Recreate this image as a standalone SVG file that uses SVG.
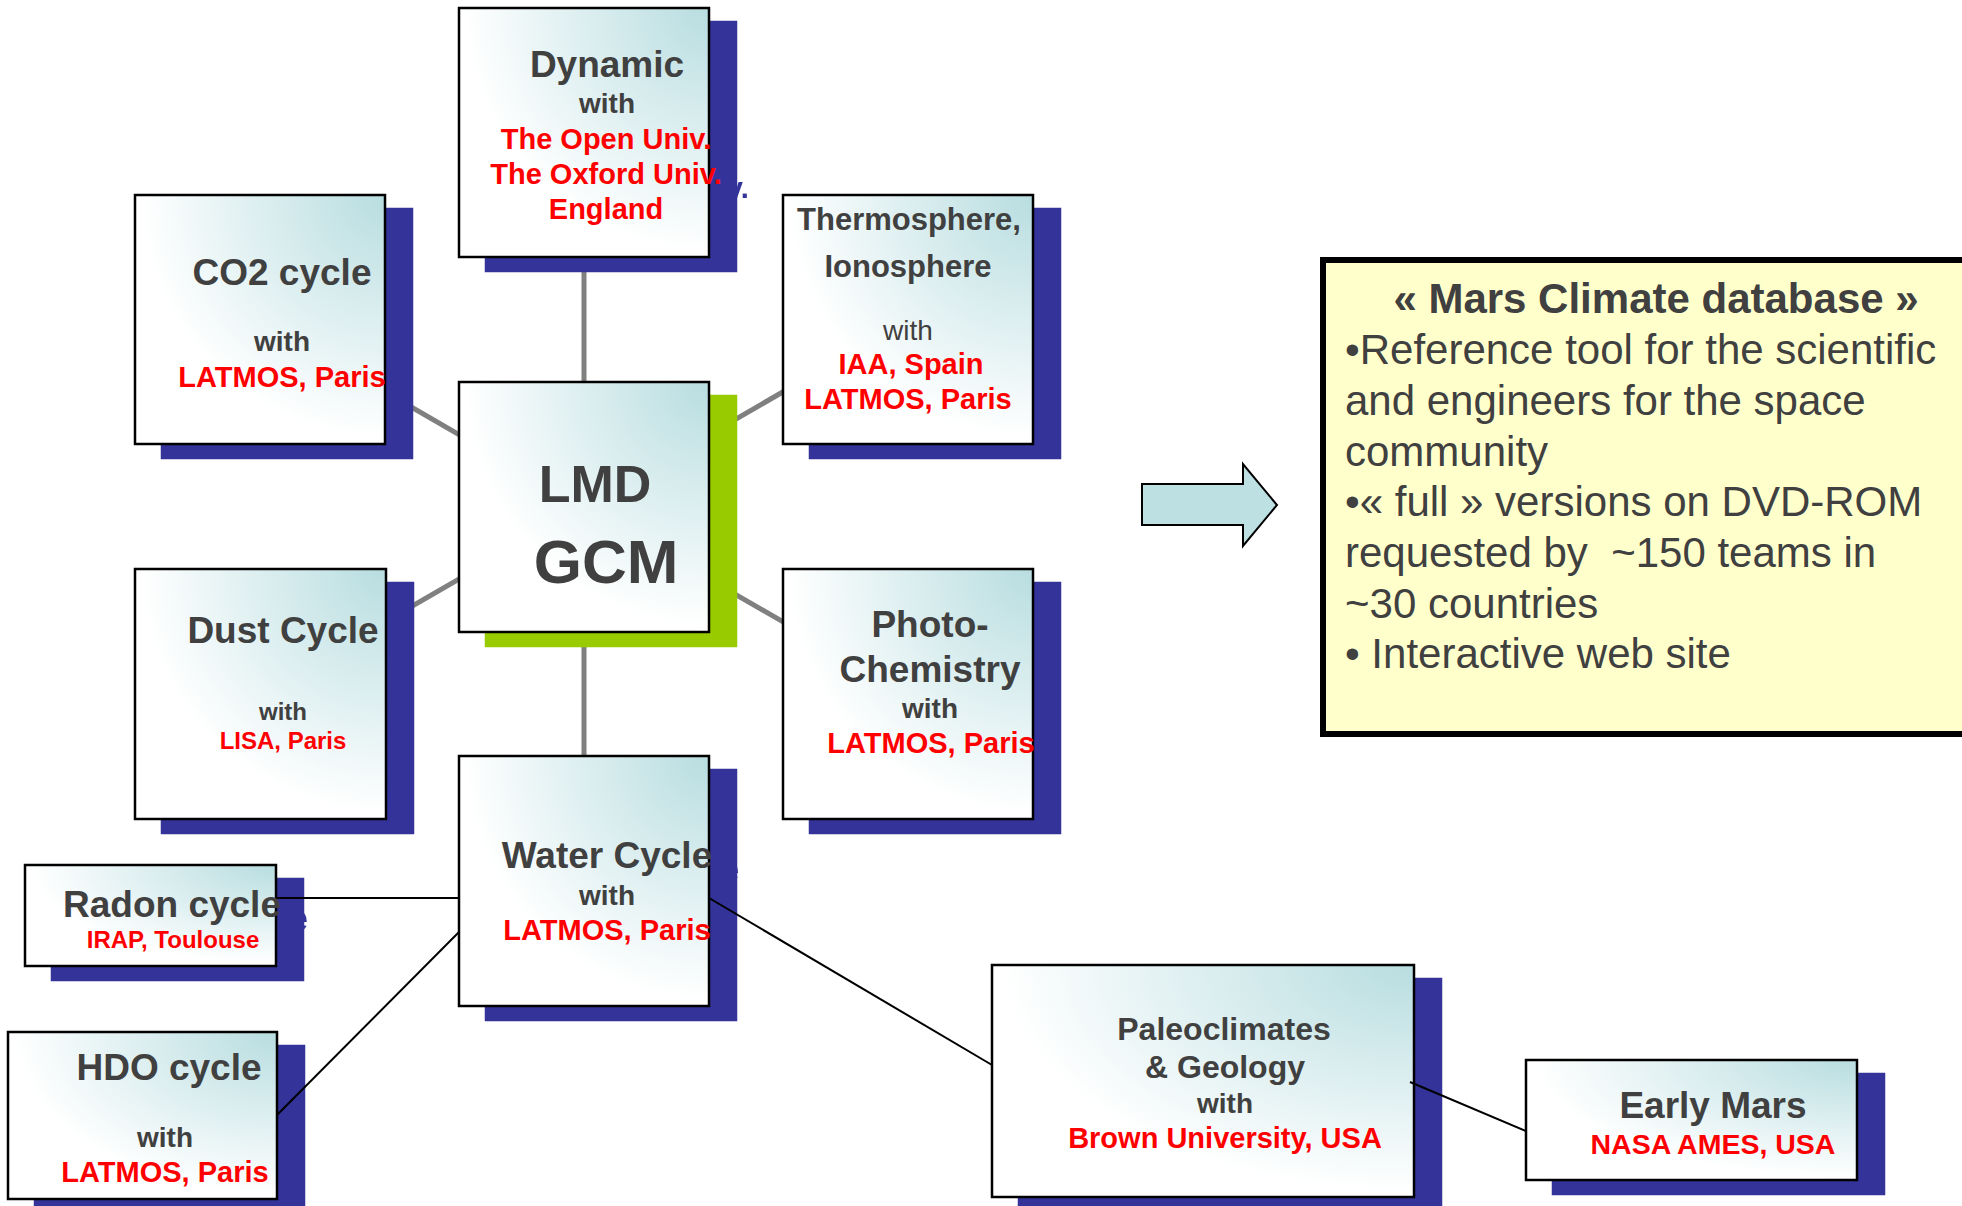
<svg xmlns="http://www.w3.org/2000/svg" xmlns:xlink="http://www.w3.org/1999/xlink" width="1962" height="1206" viewBox="0 0 1962 1206">
<style>
  text { font-family: "Liberation Sans", Arial, sans-serif; text-anchor: middle; }
  .box { fill: url(#boxGrad); stroke: #000; stroke-width: 2.5; }
  .t { fill: #404040; font-weight: bold; font-size: 37px; }
  .w { fill: #404040; font-weight: bold; font-size: 28px; }
  .wr { fill: #404040; font-weight: normal; font-size: 28px; }
  .r { fill: #ff0000; font-weight: bold; font-size: 29px; }
  .hub { stroke: #808080; stroke-width: 5; fill: none; }
  .link { stroke: #000; stroke-width: 2; fill: none; }
  .db { fill: #404040; font-size: 42px; text-anchor: start; }
</style>
<defs>
  <radialGradient id="boxGrad" cx="1" cy="0" r="1.15" gradientUnits="objectBoundingBox">
    <stop offset="0" stop-color="#b8dde0"/>
    <stop offset="0.85" stop-color="#ffffff"/>
    <stop offset="1" stop-color="#ffffff"/>
  </radialGradient>
  <filter id="shBlue" x="-0.2" y="-0.2" width="1.4" height="1.4" color-interpolation-filters="sRGB">
    <feFlood flood-color="#333399"/>
    <feComposite in2="SourceAlpha" operator="in"/>
  </filter>
  <filter id="shGreen" x="-0.2" y="-0.2" width="1.4" height="1.4" color-interpolation-filters="sRGB">
    <feFlood flood-color="#99cc00"/>
    <feComposite in2="SourceAlpha" operator="in"/>
  </filter>
</defs>
<rect width="1962" height="1206" fill="#ffffff"/>

<g id="connectors-hub">
  <line class="hub" x1="584" y1="132" x2="584" y2="881"/>
  <line class="hub" x1="260" y1="319.5" x2="584" y2="507"/>
  <line class="hub" x1="260" y1="694" x2="584" y2="507"/>
  <line class="hub" x1="908" y1="319.5" x2="584" y2="507"/>
  <line class="hub" x1="908" y1="694" x2="584" y2="507"/>
</g>

<g id="node-dynamic">
  <use xlink:href="#dyn-body" transform="translate(27,14)" filter="url(#shBlue)"/>
  <g id="dyn-body">
    <rect class="box" x="459" y="8" width="250" height="249"/>
    <text class="t" x="607" y="77">Dynamic</text>
    <text class="w" x="607" y="113">with</text>
    <text class="r" x="606" y="149">The Open Univ.</text>
    <text class="r" x="606" y="184">The Oxford Univ.</text>
    <text class="r" x="606" y="219">England</text>
  </g>
</g>

<g id="node-co2">
  <use xlink:href="#co2-body" transform="translate(27,14)" filter="url(#shBlue)"/>
  <g id="co2-body">
    <rect class="box" x="135" y="195" width="250" height="249"/>
    <text class="t" x="282" y="285">CO2 cycle</text>
    <text class="w" x="282" y="351">with</text>
    <text class="r" x="282" y="387">LATMOS, Paris</text>
  </g>
</g>

<g id="node-thermo">
  <use xlink:href="#thermo-body" transform="translate(27,14)" filter="url(#shBlue)"/>
  <g id="thermo-body">
    <rect class="box" x="783" y="195" width="250" height="249"/>
    <text class="t" style="font-size:31px" x="909" y="230">Thermosphere,</text>
    <text class="t" style="font-size:31px" x="908" y="277">Ionosphere</text>
    <text class="wr" x="908" y="340">with</text>
    <text class="r" x="911" y="374">IAA, Spain</text>
    <text class="r" x="908" y="409">LATMOS, Paris</text>
  </g>
</g>

<g id="node-lmd">
  <use xlink:href="#lmd-body" transform="translate(27,14)" filter="url(#shGreen)"/>
  <g id="lmd-body">
    <rect class="box" x="459" y="382" width="250" height="250"/>
    <text class="t" style="font-size:52px" x="595" y="502">LMD</text>
    <text class="t" style="font-size:62px" x="606" y="583">GCM</text>
  </g>
</g>

<g id="node-dust">
  <use xlink:href="#dust-body" transform="translate(27,14)" filter="url(#shBlue)"/>
  <g id="dust-body">
    <rect class="box" x="135" y="569" width="251" height="250"/>
    <text class="t" x="283" y="643">Dust Cycle</text>
    <text class="w" style="font-size:24px" x="283" y="720">with</text>
    <text class="r" style="font-size:24px" x="283" y="749">LISA, Paris</text>
  </g>
</g>

<g id="node-photo">
  <use xlink:href="#photo-body" transform="translate(27,14)" filter="url(#shBlue)"/>
  <g id="photo-body">
    <rect class="box" x="783" y="569" width="250" height="250"/>
    <text class="t" x="930" y="637">Photo-</text>
    <text class="t" x="930" y="682">Chemistry</text>
    <text class="w" x="930" y="718">with</text>
    <text class="r" x="931" y="753">LATMOS, Paris</text>
  </g>
</g>

<g id="node-water">
  <use xlink:href="#water-body" transform="translate(27,14)" filter="url(#shBlue)"/>
  <g id="water-body">
    <rect class="box" x="459" y="756" width="250" height="250"/>
    <text class="t" x="607" y="868">Water Cycle</text>
    <text class="w" x="607" y="905">with</text>
    <text class="r" x="607" y="940">LATMOS, Paris</text>
  </g>
</g>

<g id="node-radon">
  <use xlink:href="#radon-body" transform="translate(27,14)" filter="url(#shBlue)"/>
  <g id="radon-body">
    <rect class="box" x="25" y="865" width="251" height="101"/>
    <text class="t" x="172" y="917">Radon cycle</text>
    <text class="r" style="font-size:24px" x="173" y="948">IRAP, Toulouse</text>
  </g>
</g>

<g id="node-hdo">
  <use xlink:href="#hdo-body" transform="translate(27,14)" filter="url(#shBlue)"/>
  <g id="hdo-body">
    <rect class="box" x="8" y="1032" width="269" height="167"/>
    <text class="t" x="169" y="1080">HDO cycle</text>
    <text class="w" x="165" y="1147">with</text>
    <text class="r" x="165" y="1182">LATMOS, Paris</text>
  </g>
</g>

<g id="node-paleo">
  <use xlink:href="#paleo-body" transform="translate(27,14)" filter="url(#shBlue)"/>
  <g id="paleo-body">
    <rect class="box" x="992" y="965" width="422" height="232"/>
    <text class="t" style="font-size:32px" x="1224" y="1040">Paleoclimates</text>
    <text class="t" style="font-size:32px" x="1225" y="1078">&amp; Geology</text>
    <text class="w" x="1225" y="1113">with</text>
    <text class="r" x="1225" y="1148">Brown University, USA</text>
  </g>
</g>

<g id="node-early">
  <use xlink:href="#early-body" transform="translate(27,14)" filter="url(#shBlue)"/>
  <g id="early-body">
    <rect class="box" x="1526" y="1060" width="331" height="120"/>
    <text class="t" x="1713" y="1118">Early Mars</text>
    <text class="r" style="font-size:28.5px" x="1713" y="1154">NASA AMES, USA</text>
  </g>
</g>

<g id="connectors-links">
  <line class="link" x1="277" y1="898" x2="459" y2="898"/>
  <line class="link" x1="277" y1="1115" x2="459" y2="932"/>
  <line class="link" x1="709" y1="898" x2="992" y2="1065"/>
  <line class="link" x1="1410" y1="1082" x2="1526" y2="1131"/>
</g>

<g id="arrow">
  <polygon points="1142,484 1243,484 1243,464 1277,505 1243,546 1243,525 1142,525" fill="#bde0e3" stroke="#000" stroke-width="2"/>
</g>

<g id="node-mcd">
  <rect x="1323" y="260" width="700" height="474" fill="#ffffcc" stroke="#000" stroke-width="6"/>
  <text class="t" style="font-size:42px" x="1656" y="313">« Mars Climate database »</text>
  <text class="db" x="1345" y="364">•Reference tool for the scientific</text>
  <text class="db" x="1345" y="415">and engineers for the space</text>
  <text class="db" x="1345" y="466">community</text>
  <text class="db" x="1345" y="516">•« full » versions on DVD-ROM</text>
  <text class="db" x="1345" y="567" style="white-space:pre">requested by  ~150 teams in</text>
  <text class="db" x="1345" y="618">~30 countries</text>
  <text class="db" x="1345" y="668">• Interactive web site</text>
</g>
</svg>
